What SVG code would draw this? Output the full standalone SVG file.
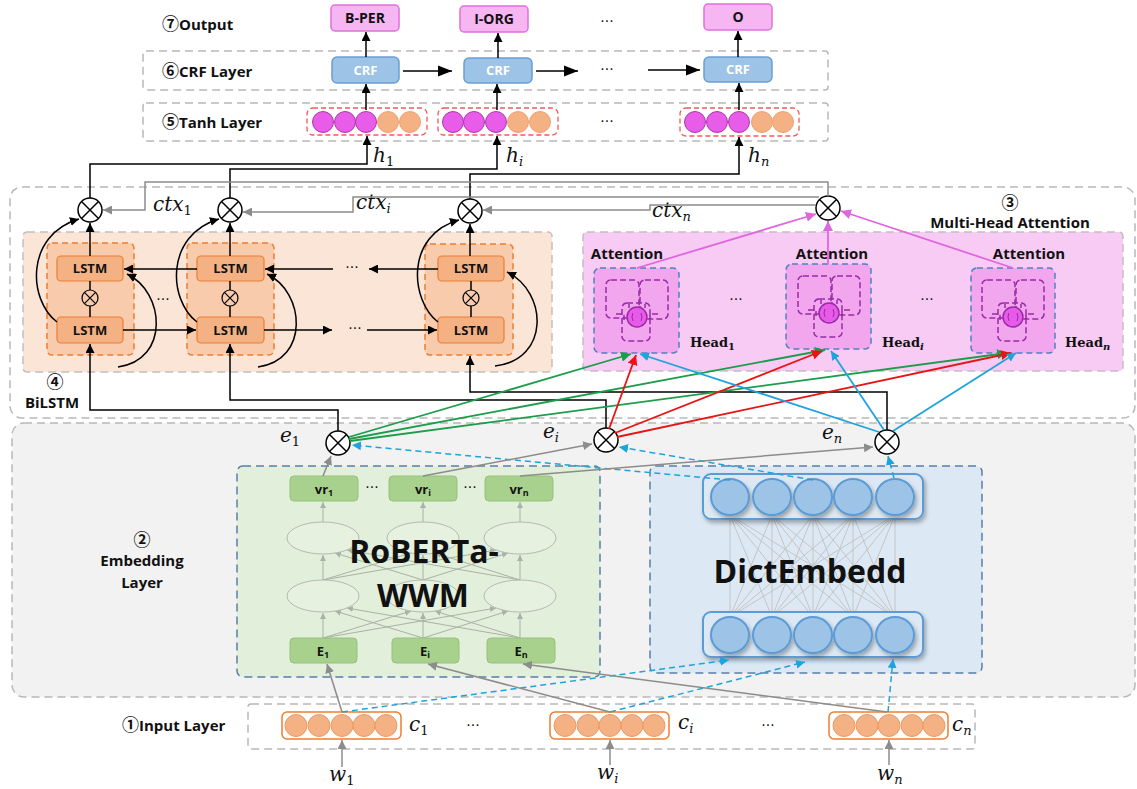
<svg xmlns="http://www.w3.org/2000/svg" width="1137" height="789" viewBox="0 0 1137 789">
<defs>
<style>
.lbl{font-family:"Open Sans","DejaVu Sans",sans-serif;font-weight:700;font-size:15px;fill:#111}
.cd{font-family:"Noto Sans CJK SC","DejaVu Sans",sans-serif;font-weight:700;font-size:17px}
.bl{font-family:"Open Sans","DejaVu Sans",sans-serif;font-weight:700;font-size:13px;text-anchor:middle;fill:#111}
.att{font-size:15px}
.o14{font-size:14px}
.big{font-family:"Open Sans","DejaVu Sans",sans-serif;font-weight:700;font-size:32px;text-anchor:middle;fill:#111}
.math{font-family:"DejaVu Serif",serif;font-style:italic;font-size:20px;fill:#111}
.num{font-style:normal}
.head{font-family:"DejaVu Serif",serif;font-weight:700;font-size:13px;fill:#111}
.dots{font-family:"DejaVu Sans",sans-serif;font-size:14px;fill:#111;text-anchor:middle}
.layer{fill:none;stroke:#b8b8b8;stroke-width:1.5;stroke-dasharray:8 5}
.out{fill:#f5b6f1;stroke:#e070dc;stroke-width:1.5}
.crf{fill:#9dc3e6;stroke:#6a9fd4;stroke-width:1.5}
.mag{fill:#e95ce9;stroke:#a83aa8;stroke-width:1}
.org{fill:#f4b183;stroke:#f3a06e;stroke-width:1}
.tanhbox{fill:none;stroke:#f05a5a;stroke-width:1.3;stroke-dasharray:5 3}
.blk{fill:none;stroke:#000;stroke-width:1.5}
.gry{fill:none;stroke:#8c8c8c;stroke-width:1.5}
.lgry{fill:none;stroke:#a9b2a6;stroke-width:1}
.dblue{fill:none;stroke:#1fa3dc;stroke-width:1.5;stroke-dasharray:6 4}
.lstmbox{fill:#f8cbad;stroke:#ed7d31;stroke-width:1.5;stroke-dasharray:6 4}
.lstm{fill:#f4b183;stroke:#ed7d31;stroke-width:1.2}
.headbox{fill:#f1a6ed;stroke:#4f81bd;stroke-width:1.5;stroke-dasharray:6 4}
.pd{fill:none;stroke:#9a2aa8;stroke-width:1.5;stroke-dasharray:6 3}
.green{fill:#a9d18e;stroke:#98c07e;stroke-width:1}
.ell{fill:#e9f2e2;stroke:#b3bcb0;stroke-width:1}
.dc{fill:#9dc3e6;stroke:#5b9bd5;stroke-width:2}
.dcont{fill:#dce9f5;stroke:#5b9bd5;stroke-width:2}
.ic{fill:#f4b183;stroke:#f09a60;stroke-width:1}
.icont{fill:#fff;stroke:#ed7d31;stroke-width:1.5}
.pk{fill:none;stroke:#e066e0;stroke-width:1.8}
.gn{fill:none;stroke:#1a9e4a;stroke-width:1.8}
.rd{fill:none;stroke:#e81414;stroke-width:1.8}
.bu{fill:none;stroke:#1fa3dc;stroke-width:1.8}
</style>
<marker id="mb" viewBox="0 0 10 10" refX="10" refY="5" markerWidth="9" markerHeight="9" orient="auto" markerUnits="userSpaceOnUse"><path d="M0,0 L10,5 L0,10 z" fill="#000"/></marker>
<marker id="mB" viewBox="0 0 10 10" refX="10" refY="5" markerWidth="14" markerHeight="14" orient="auto" markerUnits="userSpaceOnUse"><path d="M0,1 L10,5 L0,9 z" fill="#000"/></marker>
<marker id="mg" viewBox="0 0 10 10" refX="10" refY="5" markerWidth="9" markerHeight="9" orient="auto" markerUnits="userSpaceOnUse"><path d="M0,0 L10,5 L0,10 z" fill="#8c8c8c"/></marker>
<marker id="mlg" viewBox="0 0 10 10" refX="10" refY="5" markerWidth="6" markerHeight="6" orient="auto" markerUnits="userSpaceOnUse"><path d="M0,0 L10,5 L0,10 z" fill="#a9b2a6"/></marker>
<marker id="mbl" viewBox="0 0 10 10" refX="10" refY="5" markerWidth="9" markerHeight="9" orient="auto" markerUnits="userSpaceOnUse"><path d="M0,0 L10,5 L0,10 z" fill="#1fa3dc"/></marker>
<marker id="mgr" viewBox="0 0 10 10" refX="10" refY="5" markerWidth="10" markerHeight="10" orient="auto" markerUnits="userSpaceOnUse"><path d="M0,0 L10,5 L0,10 z" fill="#1a9e4a"/></marker>
<marker id="mr" viewBox="0 0 10 10" refX="10" refY="5" markerWidth="10" markerHeight="10" orient="auto" markerUnits="userSpaceOnUse"><path d="M0,0 L10,5 L0,10 z" fill="#e81414"/></marker>
<marker id="mp" viewBox="0 0 10 10" refX="10" refY="5" markerWidth="10" markerHeight="10" orient="auto" markerUnits="userSpaceOnUse"><path d="M0,0 L10,5 L0,10 z" fill="#e066e0"/></marker>
<filter id="sh" x="-10%" y="-20%" width="130%" height="150%"><feDropShadow dx="2" dy="3" stdDeviation="2" flood-color="#000" flood-opacity="0.3"/></filter>
<g id="ox"><circle r="12" fill="#fff" stroke="#000" stroke-width="1.5"/><path d="M-8.5,-8.5 L8.5,8.5 M-8.5,8.5 L8.5,-8.5" stroke="#000" stroke-width="1.5"/></g>
<g id="oxs"><circle r="8" fill="none" stroke="#000" stroke-width="1.2"/><path d="M-5.6,-5.6 L5.6,5.6 M-5.6,5.6 L5.6,-5.6" stroke="#000" stroke-width="1.2"/></g>
<g id="headIcon">
<rect x="12" y="12" width="33" height="38" rx="5" class="pd"/>
<rect x="46" y="12" width="28" height="39" rx="5" class="pd"/>
<rect x="28" y="35" width="28" height="38" rx="5" class="pd"/>
<path d="M22 46 h8 v6 M64 46 h-8 v6 M35 40 v-4 M51 40 v-4" class="pd" stroke-dasharray="none"/>
<circle cx="43" cy="49" r="10" fill="#e85ae8" stroke="#9a2aa8" stroke-width="1.5"/>
<path d="M39 45 q-2 4 0 8 M47 45 q2 4 0 8" stroke="#9a2aa8" stroke-width="1" fill="none"/>
</g>
</defs>
<rect width="1137" height="789" fill="#fff"/>

<g id="frames">
<rect x="143" y="51" width="685" height="39" rx="3" class="layer"/>
<rect x="143" y="103" width="685" height="38" rx="3" class="layer"/>
<rect x="10" y="187" width="1125" height="231" rx="12" class="layer"/>
<rect x="12" y="423" width="1123" height="274" rx="12" fill="#f2f2f2" stroke="#b8b8b8" stroke-width="1.5" stroke-dasharray="8 5"/>
<rect x="248" y="704" width="727" height="45" rx="3" class="layer"/>
</g>

<g id="layer-labels">
<text x="162" y="30" class="lbl"><tspan class="cd">⑦</tspan>Output</text>
<text x="162" y="77" class="lbl"><tspan class="cd">⑥</tspan>CRF Layer</text>
<text x="162" y="128" class="lbl"><tspan class="cd">⑤</tspan>Tanh Layer</text>
<text x="55" y="388" class="lbl cd" text-anchor="middle">④</text>
<text x="52" y="408" class="lbl" text-anchor="middle">BiLSTM</text>
<text x="1010" y="209" class="lbl cd" text-anchor="middle">③</text>
<text x="1010" y="228" class="lbl" text-anchor="middle">Multi-Head Attention</text>
<text x="142" y="546" class="lbl cd" text-anchor="middle">②</text>
<text x="142" y="566" class="lbl" text-anchor="middle">Embedding</text>
<text x="142" y="588" class="lbl" text-anchor="middle">Layer</text>
<text x="122" y="731" class="lbl"><tspan class="cd">①</tspan>Input Layer</text>
</g>

<g id="out-bper"><rect x="331" y="5" width="68" height="26" rx="4" class="out"/><text x="365" y="23" class="bl o14">B-PER</text></g>
<g id="out-iorg"><rect x="460" y="6" width="68" height="26" rx="4" class="out"/><text x="494" y="24" class="bl o14">I-ORG</text></g>
<g id="out-o"><rect x="704" y="4" width="68" height="26" rx="4" class="out"/><text x="738" y="22" class="bl o14">O</text></g>
<text x="607" y="26" class="dots">···</text>

<g id="crf1"><rect x="332" y="57" width="67" height="26" rx="5" class="crf"/><text x="365.5" y="75" class="bl" style="fill:#fff">CRF</text></g>
<g id="crf2"><rect x="464" y="58" width="68" height="25" rx="5" class="crf"/><text x="498" y="75" class="bl" style="fill:#fff">CRF</text></g>
<g id="crf3"><rect x="704" y="57" width="68" height="25" rx="5" class="crf"/><text x="738" y="74" class="bl" style="fill:#fff">CRF</text></g>
<text x="607" y="74" class="dots">···</text>

<g id="tanh1"><rect x="307" y="108" width="120" height="27" rx="6" class="tanhbox"/>
<circle cx="323" cy="122" r="10.5" class="mag"/><circle cx="345" cy="122" r="10.5" class="mag"/><circle cx="366" cy="122" r="10.5" class="mag"/><circle cx="388" cy="122" r="10.5" class="org"/><circle cx="410" cy="122" r="10.5" class="org"/></g>
<g id="tanh2"><rect x="438" y="108" width="120" height="27" rx="6" class="tanhbox"/>
<circle cx="453" cy="122" r="10.5" class="mag"/><circle cx="474" cy="122" r="10.5" class="mag"/><circle cx="496" cy="122" r="10.5" class="mag"/><circle cx="518" cy="122" r="10.5" class="org"/><circle cx="540" cy="122" r="10.5" class="org"/></g>
<g id="tanh3"><rect x="680" y="108" width="119" height="28" rx="6" class="tanhbox"/>
<circle cx="695" cy="122" r="10.5" class="mag"/><circle cx="717" cy="122" r="10.5" class="mag"/><circle cx="739" cy="122" r="10.5" class="mag"/><circle cx="762" cy="122" r="10.5" class="org"/><circle cx="783" cy="122" r="10.5" class="org"/></g>
<text x="607" y="126" class="dots">···</text>

<g id="bilstm">
<rect x="23" y="232" width="529" height="140" rx="4" fill="#fbe5d6" stroke="#c0c0c0" stroke-width="1.5" stroke-dasharray="8 5"/>
<g id="lstm-col1"><rect x="47" y="243" width="87" height="112" rx="5" class="lstmbox"/>
<rect x="57" y="256" width="66" height="25" rx="4" class="lstm"/><text x="90" y="273" class="bl">LSTM</text>
<rect x="57" y="317" width="66" height="26" rx="4" class="lstm"/><text x="90" y="335" class="bl">LSTM</text>
<use href="#oxs" x="90" y="298"/></g>
<g id="lstm-col2"><rect x="187" y="243" width="87" height="112" rx="5" class="lstmbox"/>
<rect x="197" y="256" width="67" height="25" rx="4" class="lstm"/><text x="230.5" y="273" class="bl">LSTM</text>
<rect x="197" y="317" width="67" height="26" rx="4" class="lstm"/><text x="230.5" y="335" class="bl">LSTM</text>
<use href="#oxs" x="230" y="298"/></g>
<g id="lstm-col3"><rect x="425" y="244" width="88" height="111" rx="5" class="lstmbox"/>
<rect x="438" y="256" width="66" height="25" rx="4" class="lstm"/><text x="471" y="273" class="bl">LSTM</text>
<rect x="438" y="317" width="66" height="26" rx="4" class="lstm"/><text x="471" y="335" class="bl">LSTM</text>
<use href="#oxs" x="471" y="298"/></g>
<text x="163" y="304" class="dots">···</text>
<text x="352" y="272" class="dots">···</text>
<text x="355" y="333" class="dots">···</text>
</g>

<g id="ox-lstm1"><use href="#ox" x="90" y="210"/></g>
<g id="ox-lstm2"><use href="#ox" x="230" y="210"/></g>
<g id="ox-lstm3"><use href="#ox" x="470" y="211"/></g>

<g id="mha">
<rect x="583" y="232" width="540" height="139" rx="4" fill="#f8cbf4" stroke="#c0c0c0" stroke-width="1.5" stroke-dasharray="8 5"/>
<g id="head1"><rect x="594" y="268" width="85" height="85" rx="6" class="headbox"/><use href="#headIcon" x="594" y="268"/>
<text x="627" y="259" class="bl att">Attention</text>
<text x="690" y="347" class="head">Head<tspan font-size="10" dy="3">1</tspan></text></g>
<g id="headi"><rect x="786" y="264" width="85" height="85" rx="6" class="headbox"/><use href="#headIcon" x="786" y="264"/>
<text x="832" y="259" class="bl att">Attention</text>
<text x="882" y="347" class="head">Head<tspan font-size="10" dy="3" font-style="italic">i</tspan></text></g>
<g id="headn"><rect x="971" y="268" width="84" height="85" rx="6" class="headbox"/><use href="#headIcon" x="970" y="268"/>
<text x="1029" y="259" class="bl att">Attention</text>
<text x="1065" y="347" class="head">Head<tspan font-size="10" dy="3" font-style="italic">n</tspan></text></g>
<text x="736" y="304" class="dots">···</text>
<text x="927" y="304" class="dots">···</text>
</g>
<g id="ox-att"><use href="#ox" x="828" y="208"/></g>

<g id="roberta">
<rect x="237" y="466" width="363" height="211" rx="6" fill="#e2efda" stroke="#5a7fa8" stroke-width="1.5" stroke-dasharray="8 5"/>
<path class="lgry" marker-end="url(#mlg)" d="M323 638V613"/>
<path class="lgry" marker-end="url(#mlg)" d="M423 638V613"/>
<path class="lgry" marker-end="url(#mlg)" d="M520 638V613"/>
<path class="lgry" marker-end="url(#mlg)" d="M323 580V555"/>
<path class="lgry" marker-end="url(#mlg)" d="M423 580V555"/>
<path class="lgry" marker-end="url(#mlg)" d="M520 580V555"/>
<path class="lgry" marker-end="url(#mlg)" d="M323 522V502"/>
<path class="lgry" marker-end="url(#mlg)" d="M423 522V502"/>
<path class="lgry" marker-end="url(#mlg)" d="M520 522V502"/>
<path class="lgry" marker-end="url(#mlg)" d="M323 638L411 611"/>
<path class="lgry" marker-end="url(#mlg)" d="M323 638L496 608"/>
<path class="lgry" marker-end="url(#mlg)" d="M423 638L335 611"/>
<path class="lgry" marker-end="url(#mlg)" d="M423 638L508 611"/>
<path class="lgry" marker-end="url(#mlg)" d="M520 638L347 608"/>
<path class="lgry" marker-end="url(#mlg)" d="M520 638L435 611"/>
<path class="lgry" marker-end="url(#mlg)" d="M323 580L411 553"/>
<path class="lgry" marker-end="url(#mlg)" d="M323 580L496 550"/>
<path class="lgry" marker-end="url(#mlg)" d="M423 580L335 553"/>
<path class="lgry" marker-end="url(#mlg)" d="M423 580L508 553"/>
<path class="lgry" marker-end="url(#mlg)" d="M520 580L347 550"/>
<path class="lgry" marker-end="url(#mlg)" d="M520 580L435 553"/>
<ellipse cx="323" cy="538" rx="36" ry="16" class="ell" fill-opacity="0.6"/>
<ellipse cx="423" cy="538" rx="36" ry="16" class="ell" fill-opacity="0.6"/>
<ellipse cx="520" cy="538" rx="36" ry="16" class="ell" fill-opacity="0.6"/>
<ellipse cx="323" cy="596" rx="36" ry="16" class="ell" fill-opacity="0.6"/>
<ellipse cx="423" cy="596" rx="36" ry="16" class="ell" fill-opacity="0.6"/>
<ellipse cx="520" cy="596" rx="36" ry="16" class="ell" fill-opacity="0.6"/>
<g id="vr1"><rect x="290" y="476" width="68" height="25" rx="4" class="green"/><text x="324" y="494" class="bl">vr<tspan font-size="9" dy="2">1</tspan></text></g>
<g id="vri"><rect x="389" y="476" width="68" height="25" rx="4" class="green"/><text x="423" y="494" class="bl">vr<tspan font-size="9" dy="2">i</tspan></text></g>
<g id="vrn"><rect x="485" y="476" width="68" height="25" rx="4" class="green"/><text x="519" y="494" class="bl">vr<tspan font-size="9" dy="2">n</tspan></text></g>
<text x="372" y="492" class="dots">···</text>
<text x="470" y="492" class="dots">···</text>
<g id="E1"><rect x="290" y="638" width="67" height="25" rx="4" class="green"/><text x="323" y="656" class="bl">E<tspan font-size="9" dy="2">1</tspan></text></g>
<g id="Ei"><rect x="392" y="638" width="67" height="25" rx="4" class="green"/><text x="425" y="656" class="bl">E<tspan font-size="9" dy="2">i</tspan></text></g>
<g id="En"><rect x="487" y="638" width="68" height="25" rx="4" class="green"/><text x="521" y="656" class="bl">E<tspan font-size="9" dy="2">n</tspan></text></g>
<text x="424" y="563" class="big">RoBERTa-</text>
<text x="423" y="607" class="big">WWM</text>
</g>

<g id="dictembedd">
<rect x="650" y="466" width="332" height="207" rx="6" fill="#dce9f5" stroke="#5a7fa8" stroke-width="1.5" stroke-dasharray="8 5"/>
<path stroke="#c4c4c4" stroke-width="1" fill="none" d="M730 515L730 617M730 515L772 617M730 515L813 617M730 515L853 617M730 515L895 617M772 515L730 617M772 515L772 617M772 515L813 617M772 515L853 617M772 515L895 617M813 515L730 617M813 515L772 617M813 515L813 617M813 515L853 617M813 515L895 617M853 515L730 617M853 515L772 617M853 515L813 617M853 515L853 617M853 515L895 617M895 515L730 617M895 515L772 617M895 515L813 617M895 515L853 617M895 515L895 617"/>
<g filter="url(#sh)">
<rect x="703" y="474" width="220" height="45" rx="8" class="dcont"/>
<rect x="703" y="612" width="220" height="45" rx="8" class="dcont"/>
</g>
<g filter="url(#sh)">
<ellipse cx="730" cy="497" rx="19" ry="18" class="dc"/><ellipse cx="772" cy="497" rx="19" ry="18" class="dc"/><ellipse cx="813" cy="497" rx="19" ry="18" class="dc"/><ellipse cx="853" cy="497" rx="19" ry="18" class="dc"/><ellipse cx="895" cy="497" rx="19" ry="18" class="dc"/>
<ellipse cx="730" cy="635" rx="19" ry="18" class="dc"/><ellipse cx="772" cy="635" rx="19" ry="18" class="dc"/><ellipse cx="813" cy="635" rx="19" ry="18" class="dc"/><ellipse cx="853" cy="635" rx="19" ry="18" class="dc"/><ellipse cx="895" cy="635" rx="19" ry="18" class="dc"/>
</g>
<text x="810" y="583" class="big">DictEmbedd</text>
</g>

<g id="ox-e1"><use href="#ox" x="338" y="443"/></g>
<g id="ox-ei"><use href="#ox" x="606" y="440"/></g>
<g id="ox-en"><use href="#ox" x="887" y="442"/></g>

<g id="c1"><rect x="282" y="712" width="119" height="27" rx="5" class="icont"/>
<circle cx="296" cy="725.5" r="11" class="ic"/><circle cx="319" cy="725.5" r="11" class="ic"/><circle cx="342" cy="725.5" r="11" class="ic"/><circle cx="364" cy="725.5" r="11" class="ic"/><circle cx="386" cy="725.5" r="11" class="ic"/></g>
<g id="ci"><rect x="550" y="712" width="119" height="27" rx="5" class="icont"/>
<circle cx="565" cy="725.5" r="11" class="ic"/><circle cx="588" cy="725.5" r="11" class="ic"/><circle cx="610" cy="725.5" r="11" class="ic"/><circle cx="632" cy="725.5" r="11" class="ic"/><circle cx="654" cy="725.5" r="11" class="ic"/></g>
<g id="cn"><rect x="829" y="712" width="119" height="27" rx="5" class="icont"/>
<circle cx="844" cy="725.5" r="11" class="ic"/><circle cx="867" cy="725.5" r="11" class="ic"/><circle cx="889" cy="725.5" r="11" class="ic"/><circle cx="912" cy="725.5" r="11" class="ic"/><circle cx="934" cy="725.5" r="11" class="ic"/></g>
<text x="473" y="730" class="dots">···</text>
<text x="768" y="730" class="dots">···</text>

<g id="math-labels">
<text x="373" y="162" class="math">h<tspan font-size="13" dy="4" class="num">1</tspan></text>
<text x="506" y="162" class="math">h<tspan font-size="13" dy="4">i</tspan></text>
<text x="748" y="162" class="math">h<tspan font-size="13" dy="4">n</tspan></text>
<text x="153" y="211" class="math">ctx<tspan font-size="13" dy="4" class="num">1</tspan></text>
<text x="356" y="209" class="math">ctx<tspan font-size="13" dy="4">i</tspan></text>
<text x="652" y="217" class="math">ctx<tspan font-size="13" dy="4">n</tspan></text>
<text x="280" y="442" class="math">e<tspan font-size="13" dy="4" class="num">1</tspan></text>
<text x="543" y="438" class="math">e<tspan font-size="13" dy="4">i</tspan></text>
<text x="822" y="439" class="math">e<tspan font-size="13" dy="4">n</tspan></text>
<text x="409" y="731" class="math">c<tspan font-size="13" dy="4" class="num">1</tspan></text>
<text x="678" y="729" class="math">c<tspan font-size="13" dy="4">i</tspan></text>
<text x="952" y="731" class="math">c<tspan font-size="13" dy="4">n</tspan></text>
<text x="329" y="781" class="math">w<tspan font-size="13" dy="4" class="num">1</tspan></text>
<text x="597" y="779" class="math">w<tspan font-size="13" dy="4">i</tspan></text>
<text x="877" y="780" class="math">w<tspan font-size="13" dy="4">n</tspan></text>
</g>

<g id="connectors">
<path class="blk" marker-end="url(#mb)" d="M366 57V32"/>
<path class="blk" marker-end="url(#mb)" d="M498 58V33"/>
<path class="blk" marker-end="url(#mb)" d="M738 57V31"/>
<path class="blk" marker-end="url(#mb)" d="M366 110V84"/>
<path class="blk" marker-end="url(#mb)" d="M497 110V84"/>
<path class="blk" marker-end="url(#mb)" d="M739 110V83"/>
<path class="blk" marker-end="url(#mB)" d="M403 71H452"/>
<path class="blk" marker-end="url(#mB)" d="M536 71H578"/>
<path class="blk" marker-end="url(#mB)" d="M648 70H700"/>
<path class="blk" marker-end="url(#mb)" d="M90 198V164H367V136"/>
<path class="blk" marker-end="url(#mb)" d="M230 198V169H497V136"/>
<path class="blk" marker-end="url(#mb)" d="M470 199V174H739V137"/>
<path class="gry" marker-end="url(#mg)" d="M828 196V182H145V210H103"/>
<path class="gry" marker-end="url(#mg)" d="M819 197H353V212H243"/>
<path class="gry" marker-end="url(#mg)" d="M816 205H650V210H483"/>
<path class="blk" marker-end="url(#mb)" d="M90 256V223"/>
<path class="blk" marker-end="url(#mb)" d="M230 256V223"/>
<path class="blk" marker-end="url(#mb)" d="M470 256V224"/>
<path class="blk" d="M90 281V290M90 306V317M230 281V290M230 306V317M471 281V290M471 306V317"/>
<path class="blk" marker-end="url(#mb)" d="M123 330H196"/>
<path class="blk" marker-end="url(#mb)" d="M264 330H332"/>
<path class="blk" marker-end="url(#mb)" d="M367 330H437"/>
<path class="blk" marker-end="url(#mb)" d="M197 269H124"/>
<path class="blk" marker-end="url(#mb)" d="M333 269H265"/>
<path class="blk" marker-end="url(#mb)" d="M438 269H369"/>
<path class="blk" marker-end="url(#mb)" d="M57 322C28 300 25 235 79 219"/>
<path class="blk" marker-end="url(#mb)" d="M118 367C170 360 165 292 127 274"/>
<path class="blk" marker-end="url(#mb)" d="M197 322C168 300 165 235 219 219"/>
<path class="blk" marker-end="url(#mb)" d="M258 367C310 360 305 292 267 274"/>
<path class="blk" marker-end="url(#mb)" d="M438 322C410 300 405 235 459 220"/>
<path class="blk" marker-end="url(#mb)" d="M495 366C550 360 548 292 507 272"/>
<path class="blk" marker-end="url(#mb)" d="M338 431V410H90V344"/>
<path class="blk" marker-end="url(#mb)" d="M606 428V400H230V344"/>
<path class="blk" marker-end="url(#mb)" d="M887 430V392H470V356"/>
<path class="pk" marker-end="url(#mp)" d="M637 268L816 214"/>
<path class="pk" marker-end="url(#mp)" d="M828 264V221"/>
<path class="pk" marker-end="url(#mp)" d="M1013 268L841 211"/>
<path class="gn" marker-end="url(#mgr)" d="M349 437L631 354"/>
<path class="gn" marker-end="url(#mgr)" d="M349 439L825 350"/>
<path class="gn" marker-end="url(#mgr)" d="M350 441L1007 353"/>
<path class="rd" marker-end="url(#mr)" d="M609 429L636 355"/>
<path class="rd" marker-end="url(#mr)" d="M615 433L822 351"/>
<path class="rd" marker-end="url(#mr)" d="M617 437L1011 353"/>
<path class="bu" marker-end="url(#mbl)" d="M879 432L640 354"/>
<path class="bu" marker-end="url(#mbl)" d="M884 430L831 351"/>
<path class="bu" marker-end="url(#mbl)" d="M893 431L1016 353"/>
<path class="dblue" marker-end="url(#mbl)" d="M730 480L352 445"/>
<path class="dblue" marker-end="url(#mbl)" d="M813 480L619 447"/>
<path class="dblue" marker-end="url(#mbl)" d="M894 478L888 456"/>
<path class="dblue" marker-end="url(#mbl)" d="M342 712L729 660"/>
<path class="dblue" marker-end="url(#mbl)" d="M610 712L805 662"/>
<path class="dblue" marker-end="url(#mbl)" d="M888 712L893 659"/>
<path class="gry" marker-end="url(#mg)" d="M323 476L331 456"/>
<path class="gry" marker-end="url(#mg)" d="M423 476L592 444"/>
<path class="gry" marker-end="url(#mg)" d="M520 476L873 447"/>
<path class="gry" marker-end="url(#mg)" d="M342 712L327 664"/>
<path class="gry" marker-end="url(#mg)" d="M610 712L428 664"/>
<path class="gry" marker-end="url(#mg)" d="M887 712L523 664"/>
<path class="gry" marker-end="url(#mg)" d="M342 767V740"/>
<path class="gry" marker-end="url(#mg)" d="M610 765V740"/>
<path class="gry" marker-end="url(#mg)" d="M889 765V740"/>
</g>
</svg>
